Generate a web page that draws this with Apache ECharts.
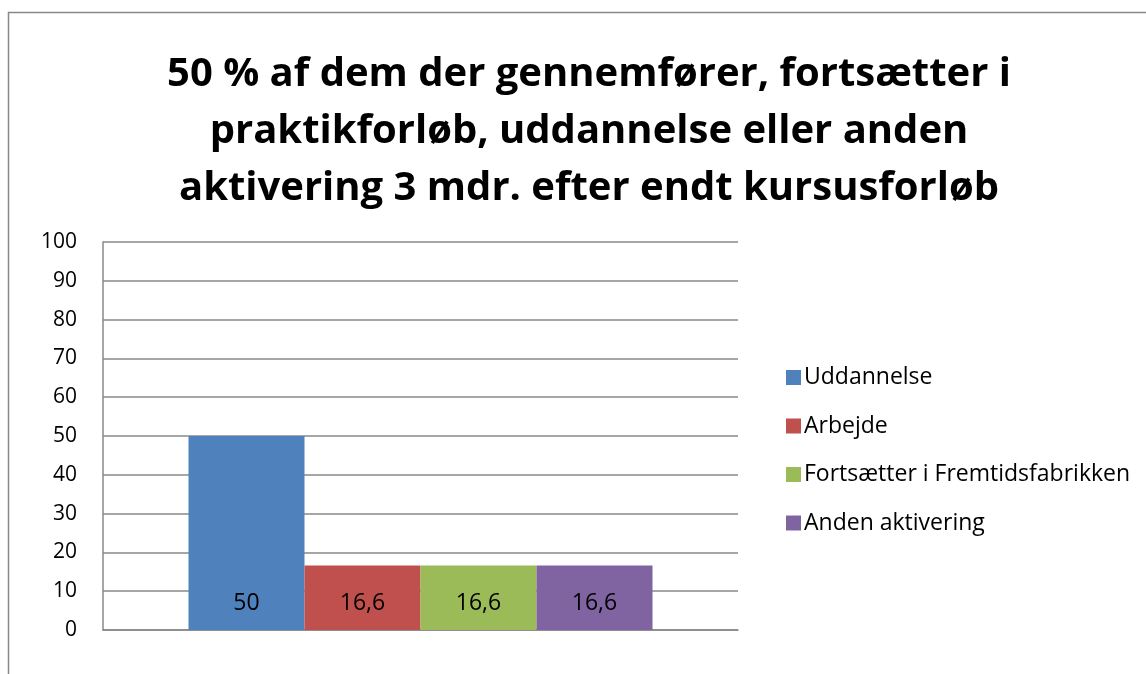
<!DOCTYPE html>
<html>
<head>
<meta charset="utf-8">
<script src="https://cdn.jsdelivr.net/npm/echarts@6/dist/echarts.min.js"></script>
<style>
    html, body { margin: 0; padding: 0; background: #fff; }
    #chart { width: 1146px; height: 674px; }
</style>
</head>
<body>
<div id="chart"></div>
<script>
// data
const categories = [''];
const seriesNames = ['Uddannelse', 'Arbejde', 'Fortsætter i Fremtidsfabrikken', 'Anden aktivering'];
const seriesValues = [50, 16.6, 16.6, 16.6];
const seriesColors = ['#4F81BD', '#C0504D', '#9BBB59', '#8064A2'];
const yTicks = [0, 10, 20, 30, 40, 50, 60, 70, 80, 90, 100];

const titleText = '50 % af dem der gennemfører, fortsætter i\npraktikforløb, uddannelse eller anden\naktivering 3 mdr. efter endt kursusforløb';
const font = '"Open Sans", "Liberation Sans", sans-serif';

let myChart = echarts.init(document.getElementById('chart'));

let series = seriesNames.map((name, i) => {
    return {
        name: name,
        type: 'bar',
        data: [seriesValues[i]],
        barWidth: 116,
        barGap: 0,
        itemStyle: { color: seriesColors[i] },
        label: {
            show: true,
            position: 'insideBottom',
            distance: 15,
            color: '#000',
            fontSize: 23,
            fontFamily: font,
            formatter: (p) => String(p.value).replace('.', ','),
        },
    };
});

const opts = {
    animation: false,
    textStyle: { fontFamily: font },
    title: {
        text: titleText,
        left: 584,
        top: 41,
        textAlign: 'center',
        textStyle: {
            fontSize: 40,
            fontWeight: 'bold',
            color: '#000',
            lineHeight: 57,
            fontFamily: font,
        },
    },
    graphic: [
        {
            type: 'rect',
            shape: { x: 8.5, y: 12.5, width: 1200, height: 700 },
            style: { fill: 'none', stroke: '#888', lineWidth: 1.5 },
            silent: true,
        },
    ],
    legend: {
        orient: 'vertical',
        left: 781,
        top: 361,
        itemWidth: 15,
        itemHeight: 15,
        itemGap: 25.5,
        icon: 'rect',
        textStyle: { fontSize: 23, color: '#000', fontFamily: font, padding: [0, 0, 0, -2] },
        data: seriesNames,
    },
    grid: {
        left: 103,
        right: 408,
        top: 242,
        bottom: 44,
        containLabel: false,
    },
    xAxis: {
        type: 'category',
        data: categories,
        axisLine: { show: true, lineStyle: { color: '#888', width: 1.5 } },
        axisTick: { show: false },
        axisLabel: { show: false },
    },
    yAxis: {
        type: 'value',
        min: yTicks[0],
        max: yTicks[yTicks.length - 1],
        interval: 10,
        axisLine: { show: true, lineStyle: { color: '#888', width: 1.5 } },
        axisTick: { show: false },
        axisLabel: { color: '#000', fontSize: 21, margin: 26, fontFamily: font },
        splitLine: { lineStyle: { color: '#888', width: 1.5 } },
    },
    series: series,
};
myChart.setOption(opts);
</script>
</body>
</html>
